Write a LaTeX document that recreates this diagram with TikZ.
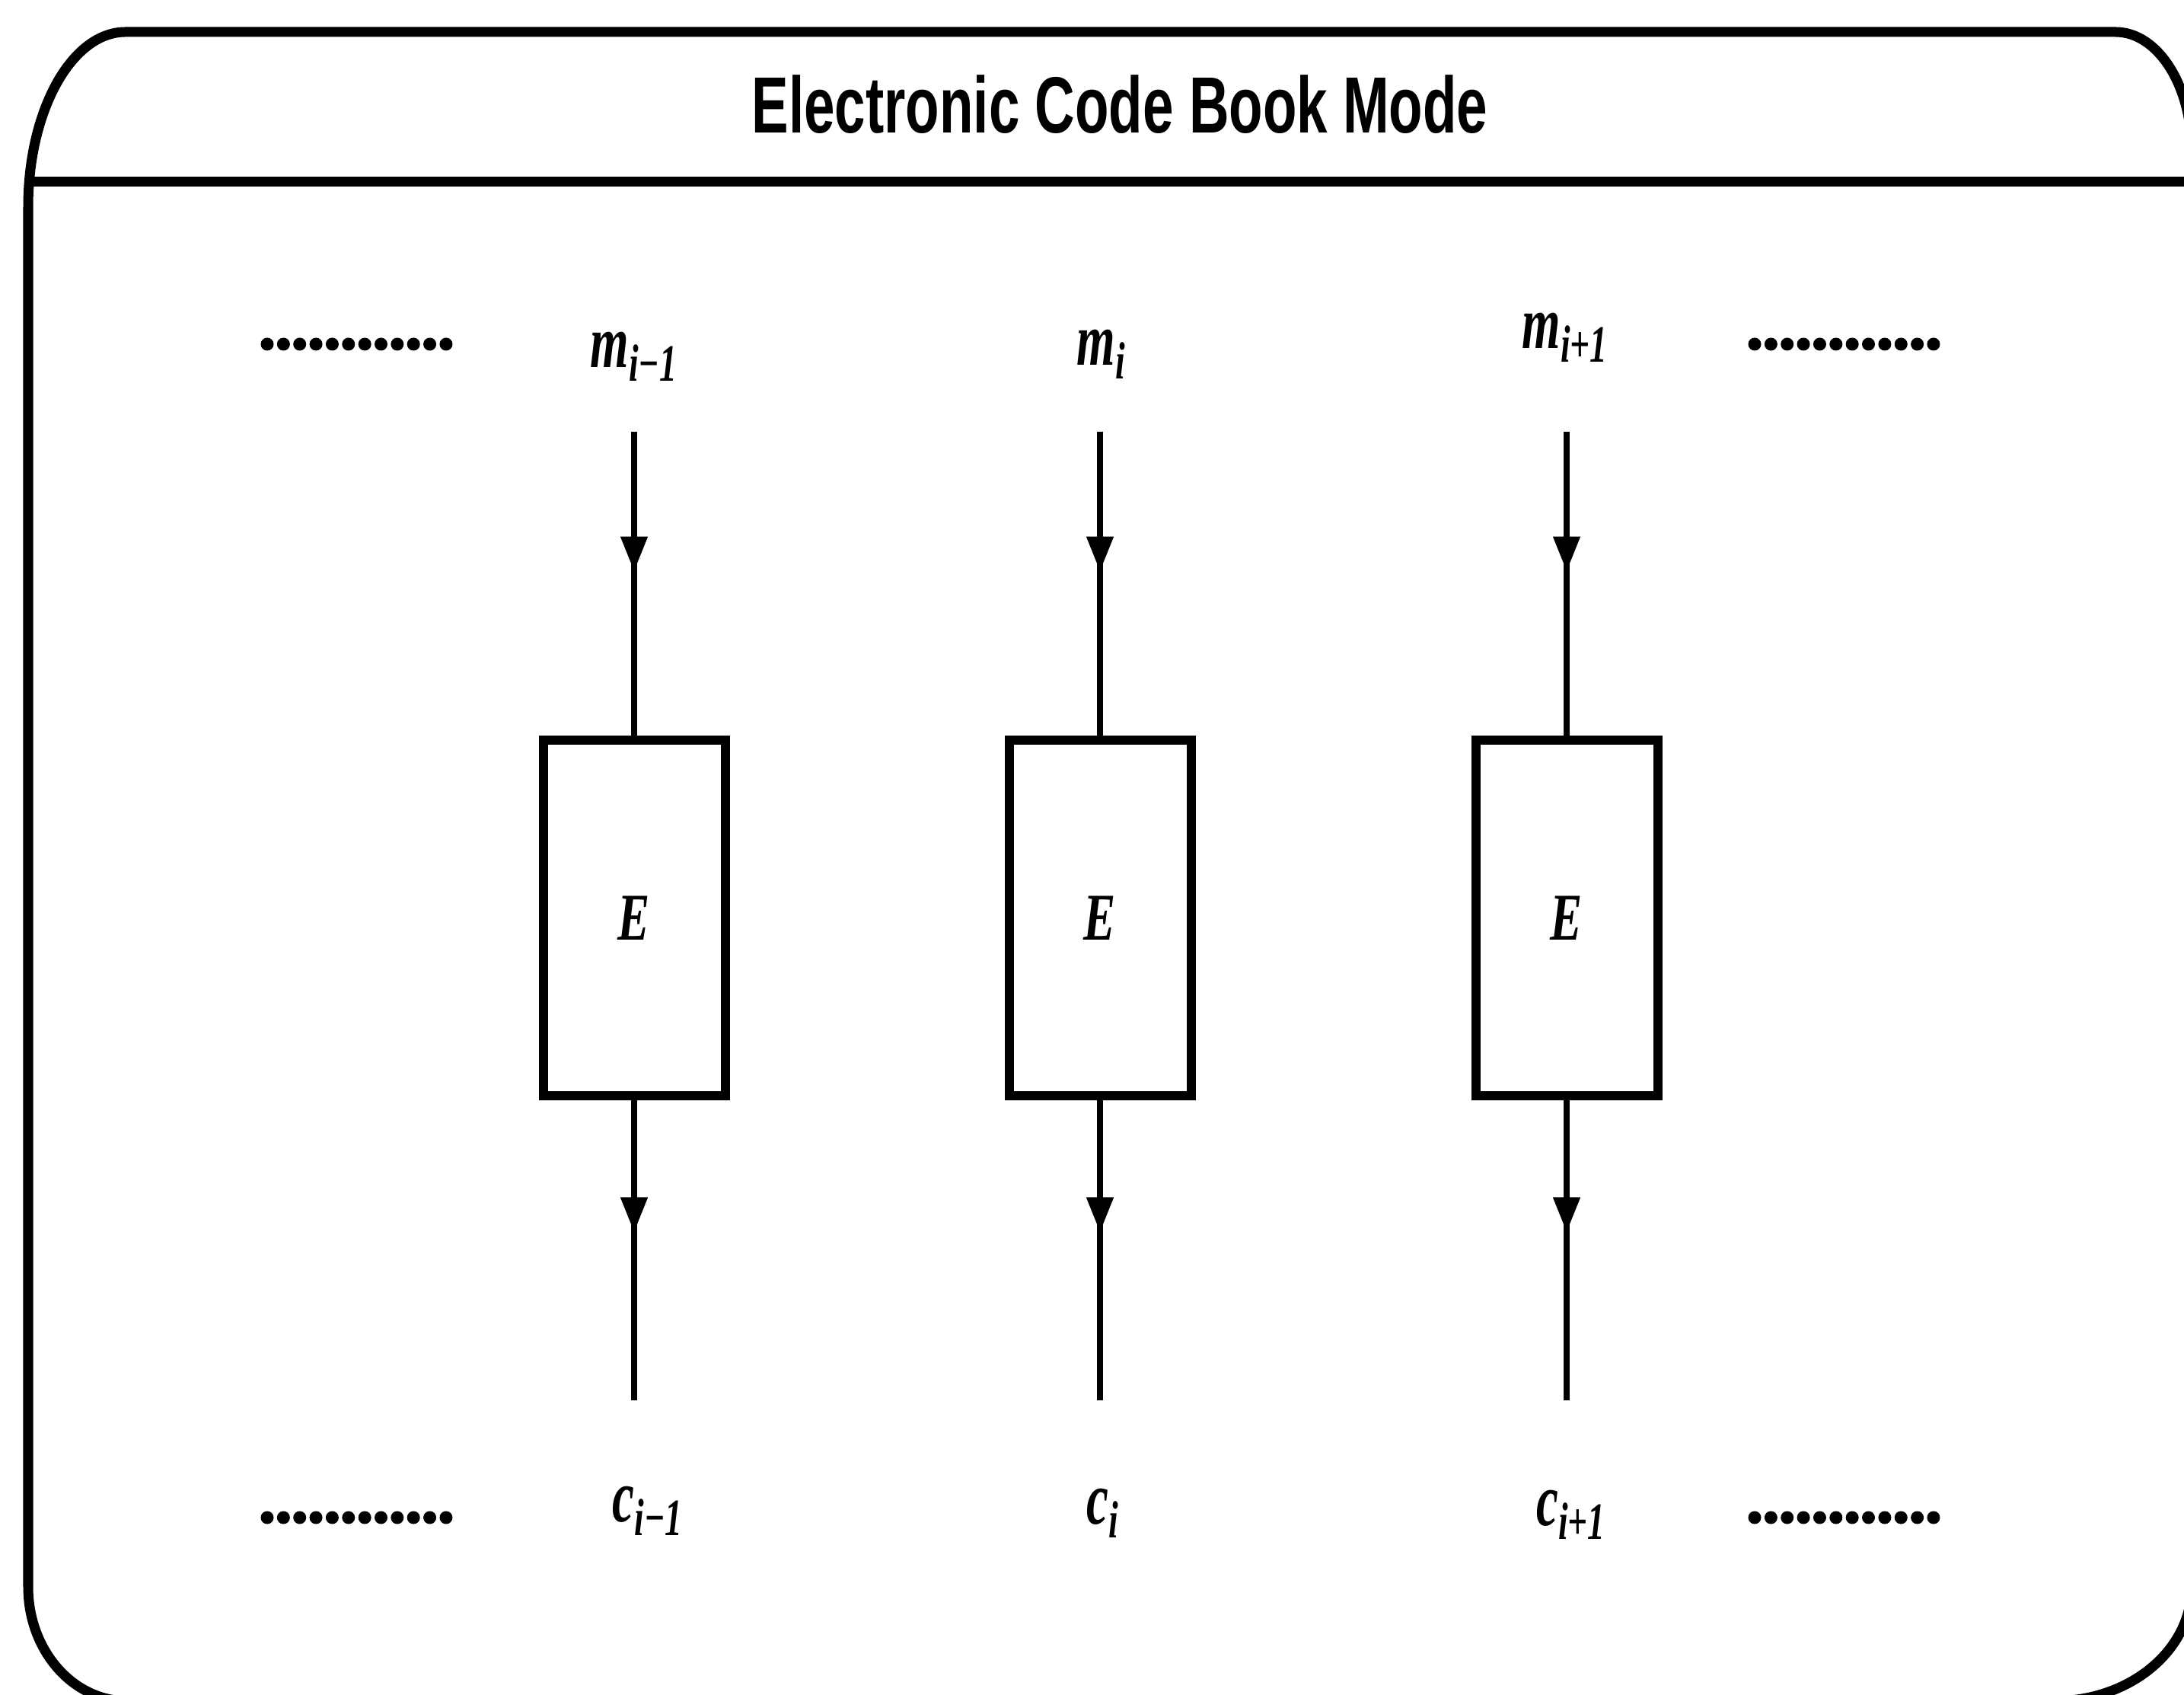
\documentclass[tikz,border=0pt]{standalone}
\usepackage{fontspec}
\usepackage{graphicx}
\usetikzlibrary{arrows.meta,decorations.markings}
\newfontfamily\headfont{Liberation Sans}
\newfontfamily\symfont{Liberation Serif}
\newcommand{\narrow}[2]{\scalebox{#1}[1]{#2}}
\newcommand{\blk}[2]{#1\textsubscript{#2}}

\tikzset{
  frame/.style={line width=0.13cm, line join=round},
  enc/.style={draw, line width=0.12cm, minimum width=2.39cm, minimum height=4.67cm,
    inner sep=0pt, font=\symfont\bfseries\itshape\fontsize{25}{27}\selectfont},
  lbl/.style={inner sep=0pt, font=\symfont\bfseries\itshape\fontsize{28}{30}\selectfont},
  flow/.style={line width=0.08cm, postaction={decorate},
    decoration={markings, mark=at position #1 with {\arrow{Triangle[width=0.34cm,length=0.46cm]}}}},
  flow/.default=0.46,
  dotrow/.style={line width=0.17cm, line cap=round, dash pattern=on 0pt off 0.2136cm},
}

\begin{document}
\begin{tikzpicture}
\useasboundingbox (0,0) rectangle (28.69,22.25);

% slide frame and title bar
\draw[frame] (0.37,1.41) -- (0.37,19.53)
  arc[start angle=180,end angle=90,x radius=1.28,y radius=2.3] -- (27.79,21.83)
  arc[start angle=90,end angle=0,x radius=1.0,y radius=1.56] -- (28.79,1.41)
  arc[start angle=0,end angle=-90,x radius=1.8,y radius=1.5] -- (1.67,-0.09)
  arc[start angle=270,end angle=180,x radius=1.3,y radius=1.5] -- cycle;
\draw[frame] (0.37,19.86) -- (28.79,19.86);
\node[font=\headfont\bfseries\fontsize{29.8}{32}\selectfont] (title) at (14.71,20.88)
  {\narrow{0.695}{Electronic Code Book Mode}};

% encryption blocks
\node[enc] (E1) at (8.33,10.195) {\narrow{0.72}{E}};
\node[enc] (E2) at (14.45,10.195) {\narrow{0.72}{E}};
\node[enc] (E3) at (20.58,10.195) {\narrow{0.72}{E}};

% plaintext blocks
\node[lbl] (m1) at (8.33,17.57) {\narrow{0.66}{\blk{m}{i−1}}};
\node[lbl] (m2) at (14.47,17.60) {\narrow{0.66}{\blk{m}{i}}};
\node[lbl] (m3) at (20.56,17.82) {\narrow{0.66}{\blk{m}{i+1}}};
\coordinate (in1) at (8.33,16.58);
\coordinate (in2) at (14.45,16.58);
\coordinate (in3) at (20.58,16.58);

% ciphertext blocks
\node[lbl] (c1) at (8.51,2.41) {\narrow{0.66}{\blk{c}{i−1}}};
\node[lbl] (c2) at (14.49,2.38) {\narrow{0.66}{\blk{c}{i}}};
\node[lbl] (c3) at (20.64,2.36) {\narrow{0.66}{\blk{c}{i+1}}};
\coordinate (out1) at (8.33,3.86);
\coordinate (out2) at (14.45,3.86);
\coordinate (out3) at (20.58,3.86);

\draw[flow] (in1) -- (E1.north);
\draw[flow] (in2) -- (E2.north);
\draw[flow] (in3) -- (E3.north);
\draw[flow=0.44] (E1.south) -- (out1);
\draw[flow=0.44] (E2.south) -- (out2);
\draw[flow=0.44] (E3.south) -- (out3);

% more blocks on either side
\draw[dotrow] (3.51,17.73) -- (5.87,17.73);
\draw[dotrow] (3.51,2.32) -- (5.87,2.32);
\draw[dotrow] (23.05,17.73) -- (25.43,17.73);
\draw[dotrow] (23.05,2.32) -- (25.43,2.32);
\end{tikzpicture}
\end{document}
